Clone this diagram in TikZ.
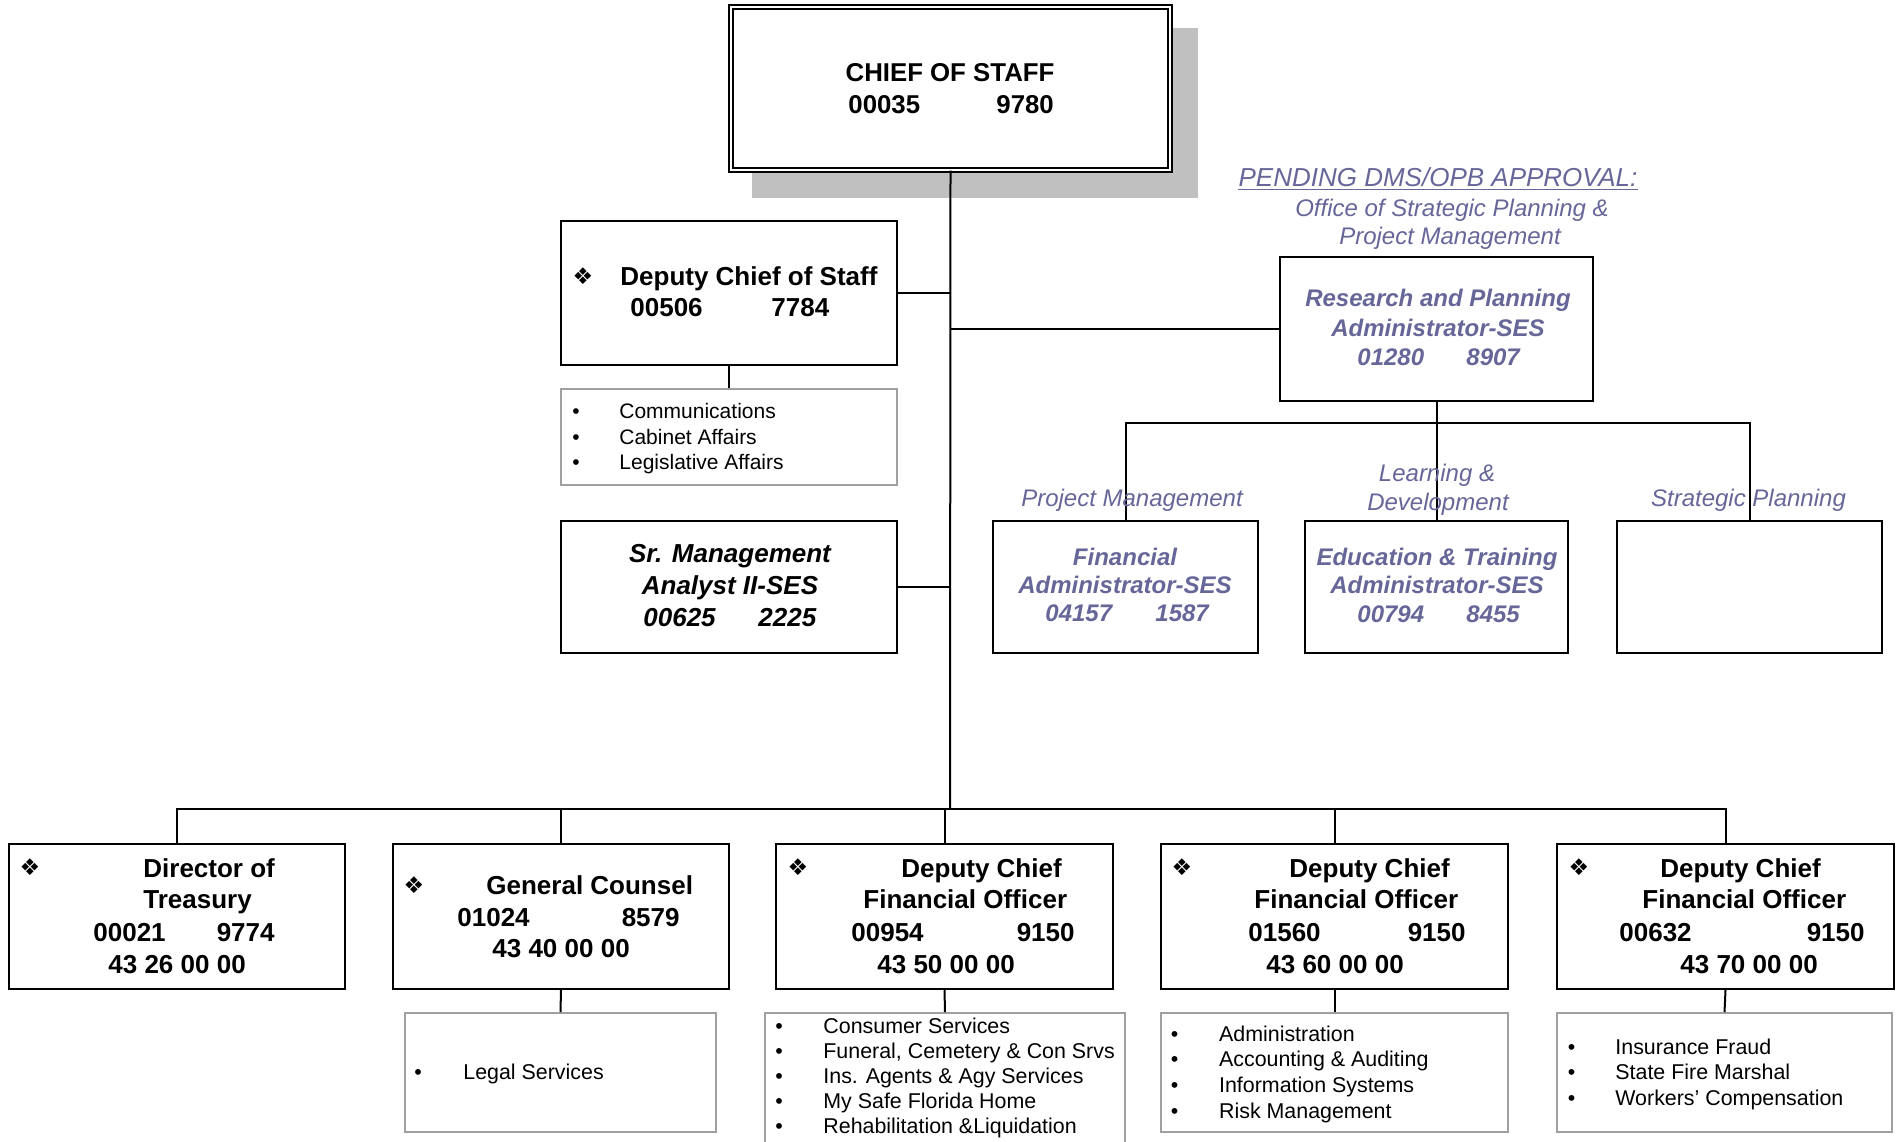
\documentclass[tikz,border=0pt]{standalone}
\usepackage{fontspec}
\setmainfont{Liberation Sans}
\newfontfamily\dejavu{DejaVu Sans}
\usetikzlibrary{fit}
\definecolor{pur}{RGB}{102,102,153}
\definecolor{shadowgray}{RGB}{192,192,192}
\definecolor{subgray}{RGB}{160,160,160}
\tikzset{
  box/.style={draw=black, line width=1pt, fill=white, inner sep=0pt, rectangle},
  dbox/.style={draw=black, double=white, double distance=1.2pt, line width=0.7pt, fill=white, inner sep=0pt, rectangle},
  gbox/.style={draw=subgray, line width=0.8pt, fill=white, inner sep=0pt, rectangle},
  shbox/.style={fill=shadowgray, inner sep=0pt, rectangle},
  bl/.style={inner sep=0pt, anchor=base west},
  bc/.style={inner sep=0pt, anchor=base},
  br/.style={inner sep=0pt, anchor=base east},
  fC/.style={font=\fontsize{12.9pt}{15pt}\selectfont\bfseries},
  fB/.style={font=\fontsize{13pt}{15pt}\selectfont\bfseries},
  fBI/.style={font=\fontsize{13pt}{15pt}\selectfont\bfseries\itshape},
  fP/.style={font=\fontsize{12pt}{14pt}\selectfont\bfseries\itshape, text=pur},
  fL/.style={font=\fontsize{12pt}{14pt}\selectfont\itshape, text=pur},
  fPend/.style={font=\fontsize{13pt}{15pt}\selectfont\itshape, text=pur},
  fS/.style={font=\fontsize{10.5pt}{12pt}\selectfont},
  fSL/.style={font=\fontsize{10.7pt}{12pt}\selectfont},
  dia/.style={inner sep=0pt, anchor=center, font=\dejavu\fontsize{11.5pt}{12pt}\selectfont},
  conn/.style={draw=black, line width=1pt},
}
\begin{document}
\begin{tikzpicture}[x=0.5pt,y=-0.5pt]
\clip (0,0) rectangle (1896,1141);
\fill[white] (0,0) rectangle (1896,1141);

% ---------- boxes ----------
\node[shbox, fit={(752,28) (1198,198)}] (chiefshadow) {};
\node[dbox, fit={(731,7) (1170,170)}] (chief) {};
\node[box, fit={(561,221) (897,365)}] (deputy) {};
\node[gbox, fit={(561,389) (897,485)}] (depsub) {};
\node[box, fit={(561,521) (897,653)}] (srm) {};
\node[box, fit={(1280,257) (1593,401)}] (research) {};
\node[box, fit={(993,521) (1258,653)}] (fin) {};
\node[box, fit={(1305,521) (1568,653)}] (edu) {};
\node[box, fit={(1617,521) (1882,653)}] (strat) {};

\node[box, fit={(9,844) (345,989)}] (dir) {};
\node[box, fit={(393,844) (729,989)}] (gc) {};
\node[box, fit={(776,844) (1113,989)}] (cfoa) {};
\node[box, fit={(1161,844) (1508,989)}] (cfob) {};
\node[box, fit={(1557,844) (1894,989)}] (cfoc) {};

\node[gbox, fit={(405,1013) (716,1132)}] (legal) {};
\node[gbox, fit={(765,1013) (1125,1160)}] (suba) {};
\node[gbox, fit={(1161,1013) (1508,1132)}] (subb) {};
\node[gbox, fit={(1557,1013) (1892,1132)}] (subc) {};

% ---------- connectors ----------
\coordinate (bbar) at (950,809);
\coordinate (rbar) at (1437,423);
\draw[conn] (chief.south) -- (bbar);
\draw[conn] (deputy.east) -- (deputy.east -| chief.south);
\draw[conn] (srm.east) -- (srm.east -| chief.south);
\draw[conn] (research.west) -- (research.west -| chief.south);
\draw[conn] (deputy.south) -- (depsub.north);
\draw[conn] (research.south) -- (edu.north);
\draw[conn] (fin.north) |- (rbar) -| (strat.north);
\draw[conn] (dir.north) |- (bbar) -| (cfoc.north);
\draw[conn] (gc.north) -- (gc.north |- bbar);
\draw[conn] (cfoa.north) -- (cfoa.north |- bbar);
\draw[conn] (cfob.north) -- (cfob.north |- bbar);
\draw[conn] (gc.south) -- (legal.north);
\draw[conn] (cfoa.south) -- (suba.north);
\draw[conn] (cfob.south) -- (subb.north);
\draw[conn] (cfoc.south) -- (subc.north);

% ---------- chief ----------
\node[fC,bc] (c1) at (950,81.5) {CHIEF OF STAFF};
\node[fC,bl] (c2) at (848,113) {00035};
\node[fC,bl] (c3) at (996,113) {9780};

% ---------- deputy chief of staff ----------
\node[dia] (ddia) at (583,276) {❖};
\node[fB,bl] (d1) at (620,285) {Deputy Chief of Staff};
\node[fB,bl] (d2) at (630,316.7) {00506};
\node[fB,bl] (d3) at (771,316.7) {7784};
\foreach \yy/\tx [count=\k] in {418/Communications, 444/Cabinet Affairs, 469/Legislative Affairs}{
  \node[fS,bc] (dsb\k) at (576,\yy) {•};
  \node[fS,bl] (dst\k) at (619,\yy) {\tx};
}

% ---------- Sr. Management ----------
\node[fBI,bc] (s1) at (730,562.7) {Sr. Management};
\node[fBI,bc] (s2) at (730,594) {Analyst II-SES};
\node[fBI,bl] (s3) at (643,626) {00625};
\node[fBI,bl] (s4) at (758,626) {2225};

% ---------- pending office ----------
\node[fPend,bc] (pend) at (1438,186.7) {PENDING DMS/OPB APPROVAL:};
\draw[pur, line width=0.6pt] ([yshift=-1.3pt]pend.base west) -- ([yshift=-1.3pt]pend.base east);
\node[fL,bc] (off1) at (1452,216.7) {Office of Strategic Planning \&};
\node[fL,bc] (off2) at (1450,244) {Project Management};

\node[fP,bc] (r1) at (1438,306.7) {Research and Planning};
\node[fP,bc] (r2) at (1438,336) {Administrator-SES};
\node[fP,bl] (r3) at (1357,365) {01280};
\node[fP,bl] (r4) at (1466,365) {8907};

\node[fL,bc] (lpm) at (1132,506.7) {Project Management};
\node[fL,bc] (lld1) at (1437,481) {Learning \&};
\node[fL,bc] (lld2) at (1438,510) {Development};
\node[fL,bc] (lsp) at (1748.5,506.7) {Strategic Planning};

\node[fP,bc] (f1) at (1125,565) {Financial};
\node[fP,bc] (f2) at (1125,593) {Administrator-SES};
\node[fP,bl] (f3) at (1045,621.7) {04157};
\node[fP,bl] (f4) at (1155,621.7) {1587};

\node[fP,bc] (e1) at (1437,565) {Education \& Training};
\node[fP,bc] (e2) at (1437,593) {Administrator-SES};
\node[fP,bl] (e3) at (1357,622.7) {00794};
\node[fP,bl] (e4) at (1466,622.7) {8455};

% ---------- bottom row ----------
\node[dia] (dirdia) at (30,867) {❖};
\node[fB,bl] (dir1) at (143,877) {Director of};
\node[fB,bl] (dir2) at (143,908) {Treasury};
\node[fB,bl] (dir3) at (93,941) {00021};
\node[fB,br] (dir4) at (275,941) {9774};
\node[fB,bl] (dir5) at (108,973) {43 26 00 00};

\node[dia] (gcdia) at (414,885) {❖};
\node[fB,bl] (gc1) at (486,894) {General Counsel};
\node[fB,bl] (gc2) at (457,926) {01024};
\node[fB,br] (gc3) at (680,926) {8579};
\node[fB,bl] (gc4) at (492,957.5) {43 40 00 00};

\node[dia] (adia) at (798,867) {❖};
\node[fB,bl] (a1) at (901,877) {Deputy Chief};
\node[fB,bl] (a2) at (863,908) {Financial Officer};
\node[fB,bl] (a3) at (851,941) {00954};
\node[fB,br] (a4) at (1075,941) {9150};
\node[fB,bl] (a5) at (877,973) {43 50 00 00};

\node[dia] (bdia) at (1182,867) {❖};
\node[fB,bl] (b1) at (1289,877) {Deputy Chief};
\node[fB,bl] (b2) at (1254,908) {Financial Officer};
\node[fB,bl] (b3) at (1248,941) {01560};
\node[fB,br] (b4) at (1466,941) {9150};
\node[fB,bl] (b5) at (1266,973) {43 60 00 00};

\node[dia] (cdia) at (1579,867) {❖};
\node[fB,bl] (cc1) at (1660,877) {Deputy Chief};
\node[fB,bl] (cc2) at (1642,908) {Financial Officer};
\node[fB,bl] (cc3) at (1619,941) {00632};
\node[fB,br] (cc4) at (1865,941) {9150};
\node[fB,bl] (cc5) at (1680,973) {43 70 00 00};

% ---------- bottom sub boxes ----------
\node[fSL,bc] (lgb) at (418,1079.5) {•};
\node[fSL,bl] (lgt) at (463,1079.5) {Legal Services};

\foreach \yy/\tx [count=\k] in {1033/Consumer Services, 1058/{Funeral, Cemetery \& Con Srvs}, 1083/Ins. Agents \& Agy Services, 1108/My Safe Florida Home, 1133/Rehabilitation \&Liquidation}{
  \node[fSL,bc] (sab\k) at (779,\yy) {•};
  \node[fSL,bl] (sat\k) at (823,\yy) {\tx};
}
\foreach \yy/\tx [count=\k] in {1041.5/Administration, 1066.5/Accounting \& Auditing, 1092.5/Information Systems, 1118.5/Risk Management}{
  \node[fSL,bc] (sbb\k) at (1174.5,\yy) {•};
  \node[fSL,bl] (sbt\k) at (1218.7,\yy) {\tx};
}
\foreach \yy/\tx [count=\k] in {1054.5/Insurance Fraud, 1079.5/State Fire Marshal, 1105.5/Workers’ Compensation}{
  \node[fSL,bc] (scb\k) at (1571.6,\yy) {•};
  \node[fSL,bl] (sct\k) at (1615,\yy) {\tx};
}
\end{tikzpicture}
\end{document}
